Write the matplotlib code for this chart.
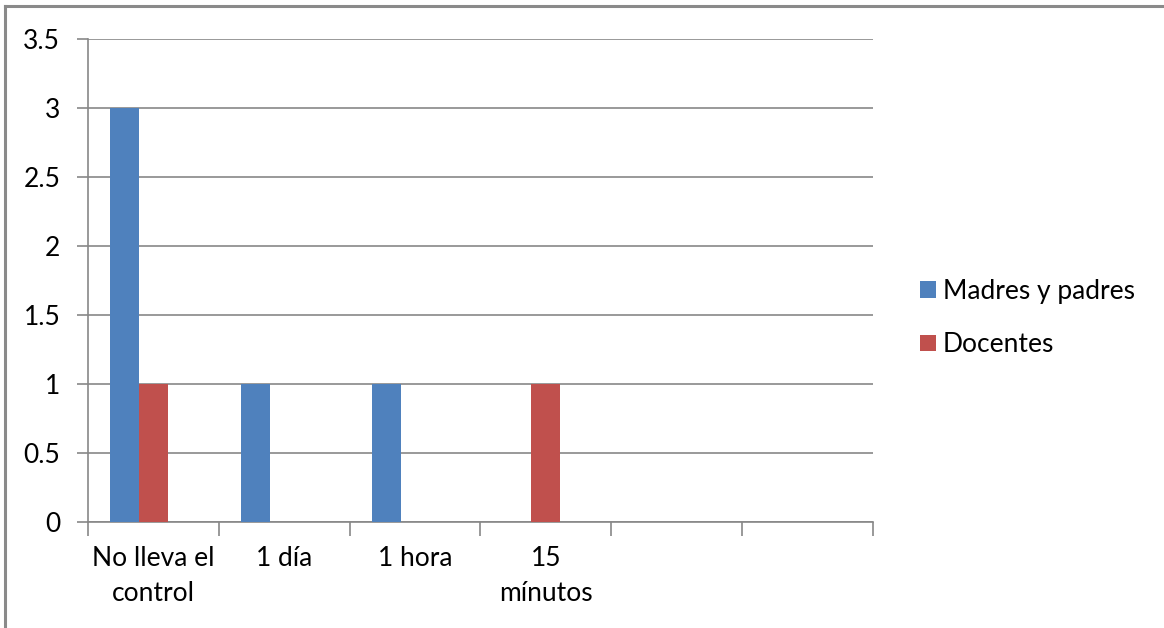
import numpy as np
import matplotlib.pyplot as plt
from matplotlib.lines import Line2D

# --- Datos ---
categorias = ["No lleva el\ncontrol", "1 día", "1 hora", "15\nmínutos", "", ""]
madres_padres = [3, 1, 1, 0, 0, 0]
docentes = [1, 0, 0, 1, 0, 0]
series = ["Madres y padres", "Docentes"]
yticks = [0, 0.5, 1, 1.5, 2, 2.5, 3, 3.5]

AZUL = "#4F81BD"
ROJO = "#C0504D"
GRIS = "#878787"
FS = 19

plt.rcParams["font.family"] = ["Lato", "DejaVu Sans"]

fig = plt.figure(figsize=(11.64, 6.28), dpi=100)
ax = fig.add_axes([88 / 1164, 1 - 522 / 628, (873 - 88) / 1164, (522 - 39) / 628])

x = np.arange(len(categorias))
w = 0.222
ax.bar(x - w, madres_padres, width=w, color=AZUL, label=series[0], zorder=3)
ax.bar(x, docentes, width=w, color=ROJO, label=series[1], zorder=3)

ax.set_xlim(-0.5, len(categorias) - 0.5)
ax.set_ylim(0, 3.5)
ax.set_yticks(yticks)
ax.set_yticklabels([f"{v:g}" for v in yticks], fontsize=FS)
ax.yaxis.grid(True, color=GRIS, linewidth=1.2, zorder=0)

# etiquetas centradas, marcas en los limites de categoria
ax.set_xticks(x)
ax.set_xticklabels(categorias, fontsize=FS, linespacing=1.5)
ax.set_xticks(np.arange(len(categorias) + 1) - 0.5, minor=True)
ax.tick_params(axis="x", which="major", length=0, pad=17)
ax.tick_params(axis="x", which="minor", length=10, color=GRIS, width=1.2)
ax.tick_params(axis="y", length=8, color=GRIS, width=1.2, pad=12)

for s in ["top", "right"]:
    ax.spines[s].set_visible(False)
for s in ["left", "bottom"]:
    ax.spines[s].set_color(GRIS)
    ax.spines[s].set_linewidth(1.2)

ax.legend(loc="center left", bbox_to_anchor=(1.06, 0.422), frameon=False,
          fontsize=FS, handlelength=0.6, handleheight=0.6, handletextpad=0.27,
          labelspacing=1.07, borderpad=0, borderaxespad=0)

# borde del grafico (solo arriba e izquierda visibles)
fig.add_artist(Line2D([5 / 1164, 1], [1 - 6 / 628, 1 - 6 / 628], color="#8a8a8a", lw=2.2))
fig.add_artist(Line2D([5 / 1164, 5 / 1164], [0, 1 - 6 / 628], color="#8a8a8a", lw=2.2))

fig.savefig("out.png", dpi=100)
